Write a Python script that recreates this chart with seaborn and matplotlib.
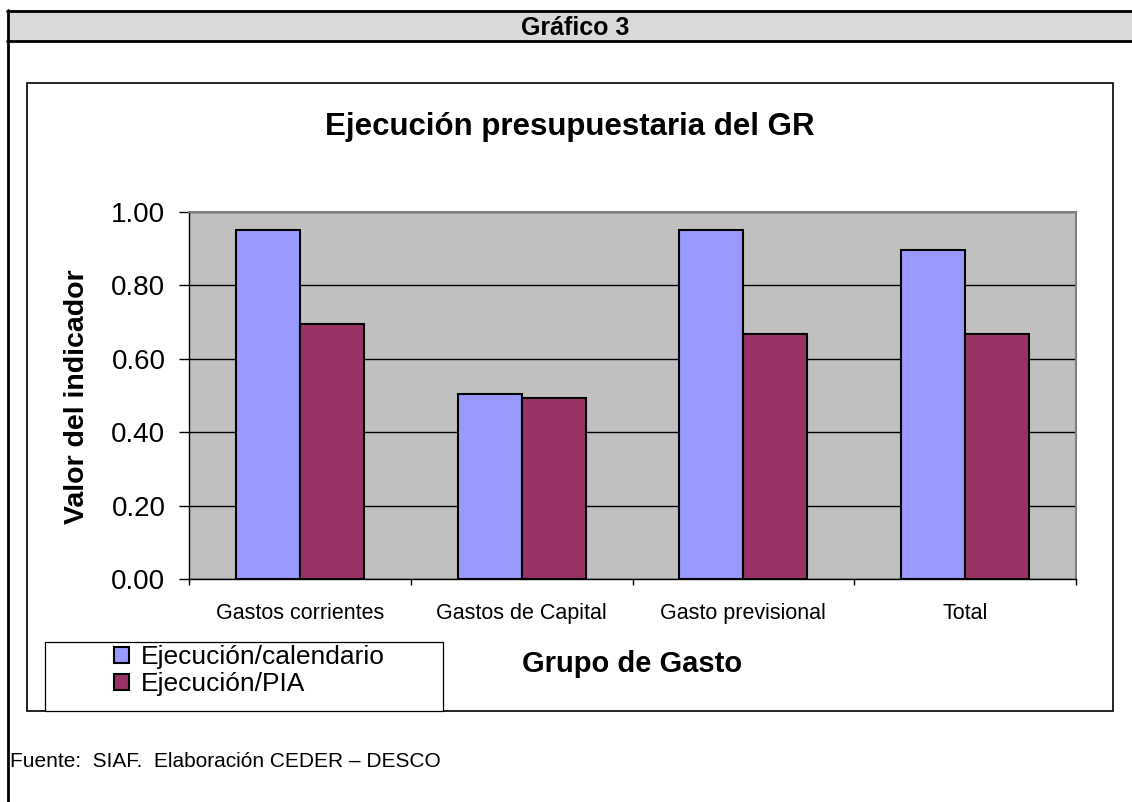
import matplotlib
matplotlib.use("Agg")
import matplotlib.pyplot as plt
from matplotlib.patches import Rectangle
from matplotlib.lines import Line2D
from matplotlib.ticker import FixedLocator, FormatStrFormatter
import seaborn as sns
import pandas as pd

# ---- data ----
categories = ["Gastos corrientes", "Gastos de Capital", "Gasto previsional", "Total"]
series_names = ["Ejecución/calendario", "Ejecución/PIA"]
ejec_calendario = [0.951, 0.504, 0.951, 0.896]
ejec_pia = [0.695, 0.492, 0.668, 0.668]
y_ticks = [0.0, 0.2, 0.4, 0.6, 0.8, 1.0]
colors = ["#9999FF", "#993366"]

df = pd.DataFrame({
    "Grupo": categories * 2,
    "Valor": ejec_calendario + ejec_pia,
    "Serie": [series_names[0]] * len(categories) + [series_names[1]] * len(categories),
})

sns.set_style("white")
plt.rcParams["font.family"] = ["Liberation Sans", "DejaVu Sans"]
plt.rcParams["text.color"] = "black"
plt.rcParams["axes.labelcolor"] = "black"
plt.rcParams["xtick.color"] = "black"
plt.rcParams["ytick.color"] = "black"

W, H = 1132, 802
fig = plt.figure(figsize=(W / 100, H / 100), dpi=100)
fx = lambda px: px / W
fy = lambda py: 1 - py / H

# ---- page decorations ----
fig.add_artist(Rectangle((fx(8), fy(41)), fx(W - 8), (41 - 10) / H,
                         transform=fig.transFigure, facecolor="#D9D9D9",
                         edgecolor="none", zorder=0))
for yy in (10.5, 41):
    fig.add_artist(Line2D([fx(7), 1], [fy(yy), fy(yy)], transform=fig.transFigure,
                          color="black", lw=2.0))
fig.add_artist(Line2D([fx(8), fx(8)], [fy(10), 0], transform=fig.transFigure,
                      color="black", lw=2.0))
fig.text(fx(575), fy(35), "Gráfico 3", ha="center", va="baseline",
         fontsize=18, fontweight="bold", color="black")

# chart box
fig.add_artist(Rectangle((fx(27), fy(711)), fx(1113 - 27), (711 - 83) / H,
                         transform=fig.transFigure, facecolor="none",
                         edgecolor="black", lw=1.2, zorder=1))

# ---- axes ----
ax = fig.add_axes([fx(189), fy(579), fx(1076 - 189), (579 - 212) / H])
ax.set_facecolor("#C0C0C0")
sns.barplot(data=df, x="Grupo", y="Valor", hue="Serie", hue_order=series_names,
            order=categories, palette=colors, saturation=1, width=0.577,
            edgecolor="black", linewidth=1.5, ax=ax, zorder=3)

ax.set_ylim(0, 1)
ax.set_xlim(-0.5, len(categories) - 0.5)
ax.yaxis.set_major_locator(FixedLocator(y_ticks))
ax.yaxis.set_major_formatter(FormatStrFormatter("%.2f"))
ax.yaxis.grid(True, color="black", lw=1.0)
ax.set_axisbelow(True)
ax.tick_params(axis="y", direction="out", length=7, width=1, pad=10,
               labelsize=20, color="black", labelcolor="black", left=True)
ax.set_xticks(range(len(categories)))
ax.set_xticklabels(categories)
ax.tick_params(axis="x", which="major", length=0, pad=17, labelsize=15.5,
               labelcolor="black")
ax.set_xticks([i - 0.5 for i in range(len(categories) + 1)], minor=True)
ax.tick_params(axis="x", which="minor", direction="out", length=4.5, width=1,
               color="black", bottom=True)
ax.set_xlabel("")
ax.set_ylabel("")
for s in ("left", "bottom"):
    ax.spines[s].set_color("black")
    ax.spines[s].set_linewidth(1.0)
for s in ("top", "right"):
    ax.spines[s].set_color("#808080")
    ax.spines[s].set_linewidth(1.5)
    ax.spines[s].set_visible(True)

# axis titles
fig.text(fx(77), fy(397), "Valor del indicador", rotation=90, ha="center",
         va="center", fontsize=20.5, fontweight="bold", color="black")
fig.text(fx(632), fy(672), "Grupo de Gasto", ha="center", va="baseline",
         fontsize=21, fontweight="bold", color="black")
fig.text(fx(570), fy(135), "Ejecución presupuestaria del GR", ha="center",
         va="baseline", fontsize=22.5, fontweight="bold", color="black")

# legend
handles, labels = ax.get_legend_handles_labels()
if ax.legend_:
    ax.legend_.remove()
fig.add_artist(Rectangle((fx(45), fy(711)), fx(443 - 45), (711 - 642) / H,
                         transform=fig.transFigure, facecolor="white",
                         edgecolor="black", lw=0.9, zorder=2))
leg = fig.legend(handles, labels, loc="upper left",
                 bbox_to_anchor=(fx(114), fy(645)), frameon=False,
                 fontsize=19, handlelength=0.55, handleheight=0.55,
                 handletextpad=0.45, labelspacing=0.12, borderpad=0,
                 borderaxespad=0, labelcolor="black")
leg.set_zorder(3)

# footer
fig.text(fx(10), fy(767), "Fuente:  SIAF.  Elaboración CEDER – DESCO",
         ha="left", va="baseline", fontsize=15, color="black")

fig.savefig("out.png", dpi=100)
